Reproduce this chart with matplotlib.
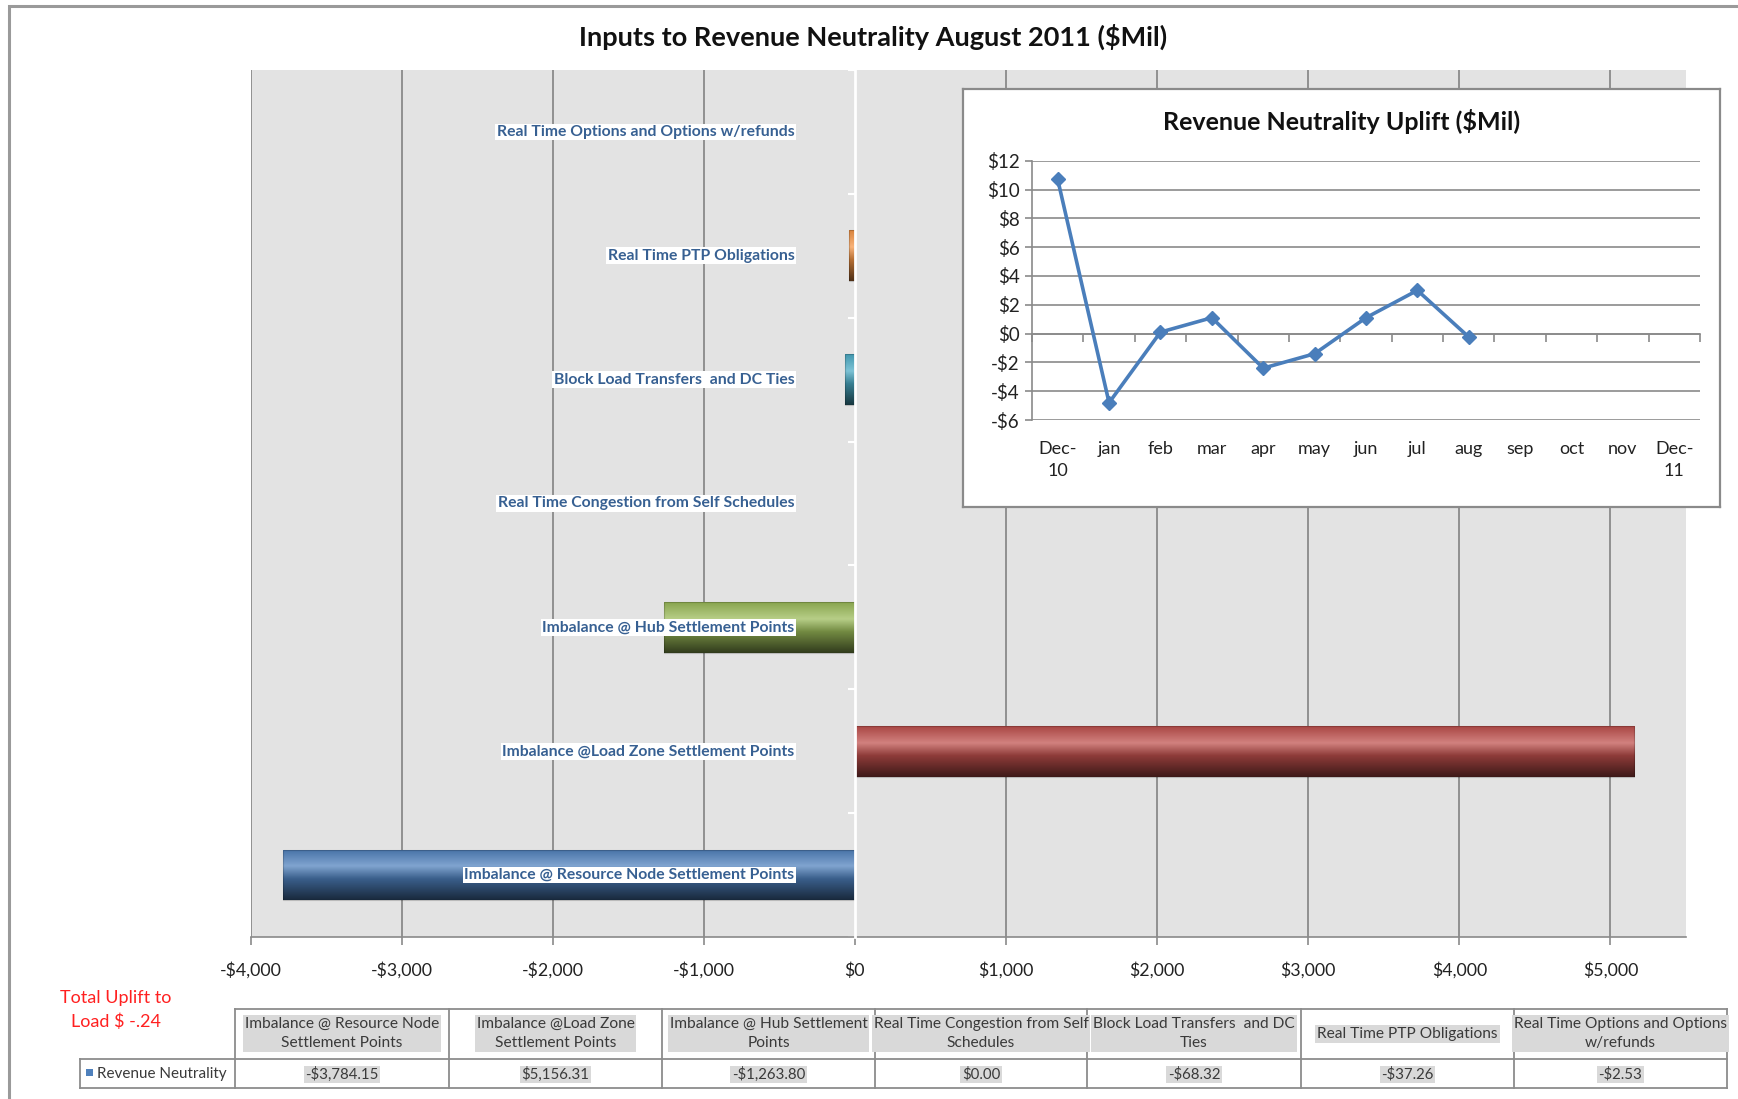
import numpy as np
import matplotlib
matplotlib.use("Agg")
import matplotlib.pyplot as plt
from matplotlib.colors import to_rgb
from matplotlib.patches import Rectangle
from matplotlib.lines import Line2D

# ---------------- data ----------------
categories = [
    "Imbalance @ Resource Node Settlement Points",
    "Imbalance @Load Zone Settlement Points",
    "Imbalance @ Hub Settlement Points",
    "Real Time Congestion from Self Schedules",
    "Block Load Transfers  and DC Ties",
    "Real Time PTP Obligations",
    "Real Time Options and Options w/refunds",
]
values = [-3784.15, 5156.31, -1263.80, 0.00, -68.32, -37.26, -2.53]
bar_colors = ["#4F81BD", "#C0504D", "#9BBB59", "#8064A2", "#4BACC6", "#F79646", "#4F81BD"]
table_headers = [
    "Imbalance @ Resource Node\nSettlement Points",
    "Imbalance @Load Zone\nSettlement Points",
    "Imbalance @ Hub Settlement\nPoints",
    "Real Time Congestion from Self\nSchedules",
    "Block Load Transfers  and DC\nTies",
    "Real Time PTP Obligations",
    "Real Time Options and Options\nw/refunds",
]
series_name = "Revenue Neutrality"
x_ticks = [-4000, -3000, -2000, -1000, 0, 1000, 2000, 3000, 4000, 5000]

months = ["Dec-\n10", "jan", "feb", "mar", "apr", "may", "jun", "jul", "aug",
          "sep", "oct", "nov", "Dec-\n11"]
uplift = [10.7, -4.8, 0.1, 1.1, -2.4, -1.4, 1.1, 3.0, -0.24]
inset_yticks = [-6, -4, -2, 0, 2, 4, 6, 8, 10, 12]

plt.rcParams["font.family"] = ["Lato", "DejaVu Sans"]

W, H = 1738, 1099
fig = plt.figure(figsize=(W / 100, H / 100), dpi=100)
fig.patch.set_facecolor("white")


def fx(px):
    return px / W


def fy(py):
    return 1 - py / H


def money(v, dec=0):
    s = f"${abs(v):,.{dec}f}"
    return "-" + s if v < 0 else s


# outer border
fig.patches.append(Rectangle((fx(9), -0.1), 1.2, fy(6) + 0.1, transform=fig.transFigure,
                             fill=False, edgecolor="#9A9A9A", linewidth=2.2, zorder=0))

# title
fig.text(fx(873), fy(37), "Inputs to Revenue Neutrality August 2011 ($Mil)",
         ha="center", va="center", fontsize=19.5, fontweight="bold", color="#111111")

# ---------------- main bar chart ----------------
ax = fig.add_axes([fx(250.5), fy(937), fx(1686) - fx(250.5), fy(70) - fy(937)])
ax.set_facecolor("#E3E3E3")
ax.set_xlim(-4000, 5500)
ax.set_ylim(-0.5, len(categories) - 0.5)
ys = np.arange(len(categories))

for xt in x_ticks:
    if xt != 0:
        ax.axvline(xt, color="#8A8A8A", linewidth=1.3, zorder=1)

bars = ax.barh(ys, values, height=0.41, color=bar_colors, edgecolor="none", zorder=2)


def gradient_for(col):
    base = np.array(to_rgb(col))
    light = base + (1 - base) * 0.28
    stops = [(0.0, base * 0.88), (0.33, light), (0.58, base * 0.74), (1.0, base * 0.32)]
    t = np.linspace(0, 1, 120)
    img = np.zeros((120, 1, 3))
    for c in range(3):
        img[:, 0, c] = np.interp(t, [s[0] for s in stops], [s[1][c] for s in stops])
    return np.clip(img, 0, 1)


for b, col in zip(bars, bar_colors):
    w = b.get_width()
    if w == 0:
        continue
    x0, y0 = b.get_x(), b.get_y()
    x1, y1 = x0 + w, y0 + b.get_height()
    im = ax.imshow(gradient_for(col), extent=[min(x0, x1), max(x0, x1), y0, y1],
                   aspect="auto", origin="upper", zorder=3, interpolation="bilinear")
    im.set_clip_path(b)
    ax.add_patch(Rectangle((x0, y0), w, b.get_height(), fill=False,
                           edgecolor=(0, 0, 0, 0.18), linewidth=0.8, zorder=4))

ax.set_xlim(-4000, 5500)
ax.set_ylim(-0.5, len(categories) - 0.5)

for y, name in zip(ys, categories):
    ax.text(-400, y, name, ha="right", va="center", fontsize=11.3, fontweight="bold",
            color="#376092", zorder=6,
            bbox=dict(facecolor="white", edgecolor="none", pad=1.0))

ax.set_xticks(x_ticks)
ax.set_xticklabels([money(v) for v in x_ticks], fontsize=12.8, color="#222222")
ax.tick_params(axis="x", length=6, width=1.2, color="#8A8A8A", pad=12)
ax.set_yticks(np.arange(-0.5, len(categories), 1.0))
ax.set_yticklabels([])
ax.tick_params(axis="y", length=5, width=1.5, color="white", direction="out")
ax.spines["left"].set_position(("data", 0))
ax.spines["left"].set_color("white")
ax.spines["left"].set_linewidth(2)
ax.spines["left"].set_zorder(5)
ax.spines["bottom"].set_color("#8A8A8A")
ax.spines["bottom"].set_linewidth(1.2)
ax.spines["top"].set_visible(False)
ax.spines["right"].set_visible(False)

# ---------------- inset line chart ----------------
box = fig.add_axes([fx(963), fy(507), fx(1720) - fx(963), fy(89) - fy(507)])
box.set_facecolor("white")
box.set_xticks([])
box.set_yticks([])
for s in box.spines.values():
    s.set_color("#8A8A8A")
    s.set_linewidth(1.6)
box.text(0.5, 1 - (121 - 89) / (507 - 89), "Revenue Neutrality Uplift ($Mil)",
         transform=box.transAxes, ha="center", va="center", fontsize=18,
         fontweight="bold", color="#111111")

ai = fig.add_axes([fx(1032), fy(420), fx(1700) - fx(1032), fy(160.7) - fy(420)])
ai.set_facecolor("none")
ai.set_xlim(-0.5, len(months) - 0.5)
ai.set_ylim(min(inset_yticks), max(inset_yticks))
for yt in inset_yticks:
    ai.axhline(yt, color="#8A8A8A", linewidth=1.2, zorder=1)
ai.plot(np.arange(len(uplift)), uplift, color="#4A7EBB", linewidth=2.6,
        marker="D", markersize=7.5, markerfacecolor="#4A7EBB",
        markeredgecolor="#4A7EBB", zorder=4)
ai.set_yticks(inset_yticks)
ai.set_yticklabels([money(v) for v in inset_yticks], fontsize=13.5, color="#222222")
ai.tick_params(axis="y", length=5, width=1.2, color="#8A8A8A", pad=4)
ai.set_xticks(np.arange(len(months)))
ai.set_xticklabels(months, fontsize=13, color="#222222", linespacing=1.45)
ai.tick_params(axis="x", length=0, pad=15)
ai.spines["left"].set_color("#8A8A8A")
ai.spines["left"].set_linewidth(1.2)
for k in ["top", "right", "bottom"]:
    ai.spines[k].set_visible(False)

sec = ai.secondary_xaxis(0, transform=ai.transData)
sec.set_xticks(np.arange(-0.5, len(months), 1.0))
sec.set_xticklabels([])
sec.tick_params(axis="x", length=6, width=1.2, color="#8A8A8A", direction="out")
sec.spines["bottom"].set_color("#8A8A8A")
sec.spines["bottom"].set_linewidth(1.2)

# ---------------- data table ----------------
at = fig.add_axes([0, 0, 1, 1], zorder=10)
at.set_xlim(0, W)
at.set_ylim(H, 0)
at.axis("off")
at.patch.set_alpha(0)

col_x = [235, 449, 662, 875, 1087, 1301, 1514, 1727]
leg_x = 80
y_top, y_mid, y_bot = 1008.6, 1058.5, 1088.4
lc = "#8C8C8C"
at.add_line(Line2D([col_x[0], col_x[-1]], [y_top, y_top], color=lc, lw=1.3))
at.add_line(Line2D([leg_x, col_x[-1]], [y_mid, y_mid], color=lc, lw=1.3))
at.add_line(Line2D([leg_x, col_x[-1]], [y_bot, y_bot], color=lc, lw=1.3))
at.add_line(Line2D([leg_x, leg_x], [y_mid, y_bot], color=lc, lw=1.3))
for xc in col_x:
    at.add_line(Line2D([xc, xc], [y_top, y_bot], color=lc, lw=1.3))

for i, (hdr, v) in enumerate(zip(table_headers, values)):
    cx = (col_x[i] + col_x[i + 1]) / 2
    at.text(cx, (y_top + y_mid) / 2, hdr, ha="center", va="center", fontsize=11.2,
            color="#3A3A3A", linespacing=1.45,
            bbox=dict(facecolor="#D9D9D9", edgecolor="none", pad=1.5))
    at.text(cx, (y_mid + y_bot) / 2 + 1, money(v, 2), ha="center", va="center",
            fontsize=10.8, color="#3A3A3A",
            bbox=dict(facecolor="#D9D9D9", edgecolor="none", pad=1.0))

at.add_patch(Rectangle((86, 1069), 7, 7, facecolor="#4F81BD", edgecolor="none"))
at.text(97, (y_mid + y_bot) / 2 + 1, series_name, ha="left", va="center",
        fontsize=11, color="#3A3A3A")

total_txt = f"{uplift[-1]:.2f}".replace("0.", ".")
at.text(116, 1010, f"Total Uplift to\nLoad $ {total_txt}", ha="center", va="center",
        fontsize=13, color="#FF2020", linespacing=1.5)

fig.savefig("out.png", dpi=100, facecolor="white")
